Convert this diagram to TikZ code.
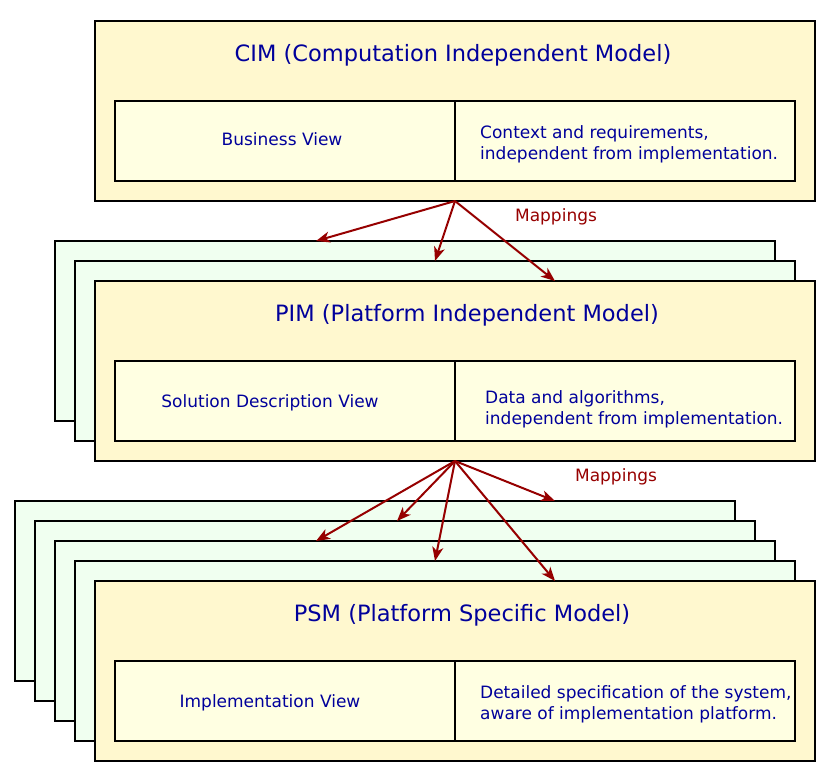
\documentclass[tikz,border=0pt]{standalone}
\usepackage{fontspec}
\setmainfont{DejaVu Sans}
\usetikzlibrary{arrows.meta}
\definecolor{outerfill}{RGB}{255,248,207}
\definecolor{innerfill}{RGB}{255,255,226}
\definecolor{greenfill}{RGB}{240,255,240}
\definecolor{txtblue}{RGB}{0,0,155}
\definecolor{mapred}{RGB}{150,0,0}
\begin{document}
\begin{tikzpicture}[x=1pt,y=-1pt,
  modelbox/.style={draw=black,line width=2pt,fill=outerfill,rectangle,anchor=north west,minimum width=720pt,minimum height=180pt,inner sep=0pt,outer sep=0pt},
  shadowbox/.style={modelbox,fill=greenfill},
  viewbox/.style={draw=black,line width=2pt,fill=innerfill,rectangle,anchor=north west,minimum width=340pt,minimum height=80pt,inner sep=0pt,outer sep=0pt},
  titletext/.style={text=txtblue,font=\fontsize{22.5}{27}\selectfont,anchor=base,inner sep=0pt},
  smalltext/.style={text=txtblue,font=\fontsize{17}{21}\selectfont,anchor=base,inner sep=0pt},
  desctext/.style={text=txtblue,font=\fontsize{17}{21}\selectfont,anchor=base west,align=left,inner sep=0pt},
  maptext/.style={text=mapred,font=\fontsize{17}{21}\selectfont,anchor=base,inner sep=0pt},
  maparrow/.style={draw=mapred,line width=2pt,-{Stealth[length=14pt,width=11pt,inset=4pt]}}
]
\useasboundingbox (0,0) rectangle (833,782);
% CIM
\node[modelbox] (cim) at (95,21) {};
\node[viewbox] (cimL) at (115,101) {};
\node[viewbox] (cimR) at (455,101) {};
\node[titletext] (cimT) at (453,61) {CIM (Computation Independent Model)};
\node[smalltext] (cimLT) at (282,145) {Business View};
\node[desctext] (cimRT) at (480,159) {Context and requirements,\\independent from implementation.};
% PIM
\node[shadowbox] (pimA) at (55,241) {};
\node[shadowbox] (pimB) at (75,261) {};
\node[modelbox] (pim) at (95,281) {};
\node[viewbox] (pimL) at (115,361) {};
\node[viewbox] (pimR) at (455,361) {};
\node[titletext] (pimT) at (467,321) {PIM (Platform Independent Model)};
\node[smalltext] (pimLT) at (270,407) {Solution Description View};
\node[desctext] (pimRT) at (485,424) {Data and algorithms,\\independent from implementation.};
% PSM
\node[shadowbox] (psmA) at (15,501) {};
\node[shadowbox] (psmB) at (35,521) {};
\node[shadowbox] (psmC) at (55,541) {};
\node[shadowbox] (psmD) at (75,561) {};
\node[modelbox] (psm) at (95,581) {};
\node[viewbox] (psmL) at (115,661) {};
\node[viewbox] (psmR) at (455,661) {};
\node[titletext] (psmT) at (462,621) {PSM (Platform Specific Model)};
\node[smalltext] (psmLT) at (270,707) {Implementation View};
\node[desctext] (psmRT) at (480,719) {Detailed specification of the system,\\aware of implementation platform.};
% mappings CIM -> PIM
\coordinate (t1) at (316,241);
\coordinate (t2) at (435,261);
\coordinate (t3) at (555,281);
\draw[maparrow] (cim.south) -- (t1);
\draw[maparrow] (cim.south) -- (t2);
\draw[maparrow] (cim.south) -- (t3);
\node[maptext] (map1) at (556,221) {Mappings};
% mappings PIM -> PSM
\coordinate (u1) at (555,501);
\coordinate (u2) at (397,521);
\coordinate (u3) at (316,541);
\coordinate (u4) at (435,561);
\coordinate (u5) at (555,581);
\draw[maparrow] (pim.south) -- (u1);
\draw[maparrow] (pim.south) -- (u2);
\draw[maparrow] (pim.south) -- (u3);
\draw[maparrow] (pim.south) -- (u4);
\draw[maparrow] (pim.south) -- (u5);
\node[maptext] (map2) at (616,481) {Mappings};
\end{tikzpicture}
\end{document}
